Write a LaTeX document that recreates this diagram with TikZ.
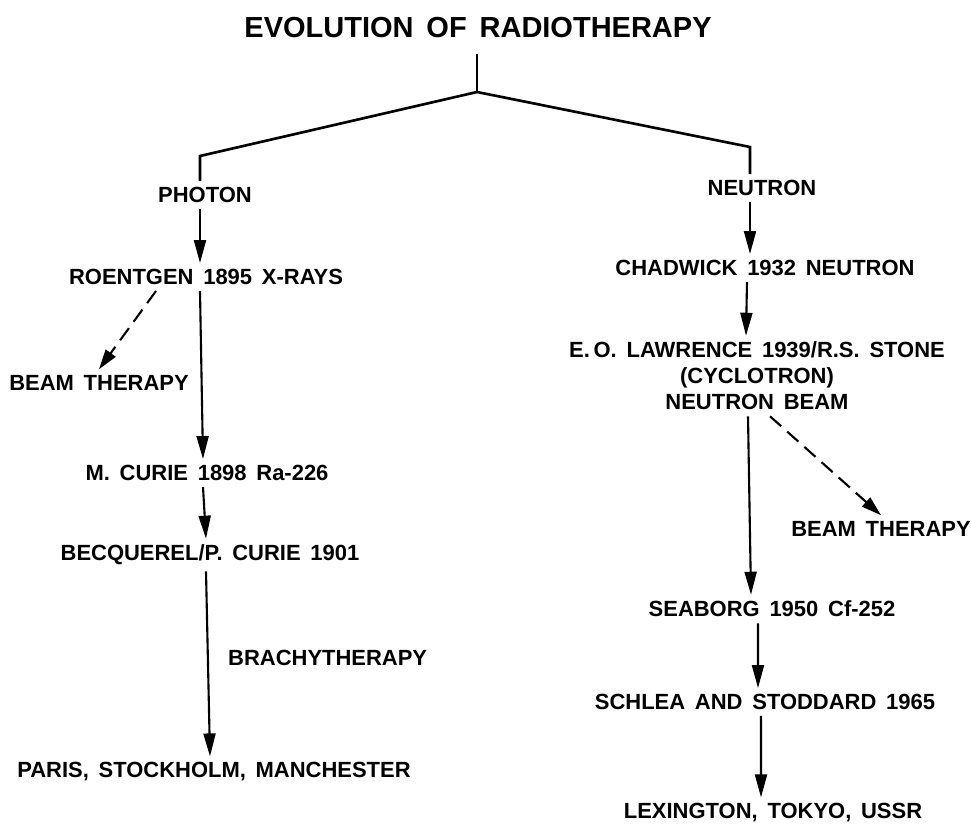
\documentclass[tikz,border=0pt]{standalone}
\usepackage{fontspec}
\setmainfont{Liberation Sans}[WordSpace=1.6]
\usetikzlibrary{arrows.meta}
\tikzset{
  lbl/.style={font=\fontsize{12.5pt}{14.8pt}\selectfont\bfseries, align=center},
  flow/.style={-{Triangle[length=4.6mm,width=2.4mm]}, line width=1.2pt},
  side/.style={-{Triangle[length=4mm,width=2.4mm]}, line width=1.2pt,
    dash pattern=on 3mm off 1.6mm},
}
\begin{document}
\begin{tikzpicture}[x=0.2mm,y=-0.2mm]
  \useasboundingbox (0,0) rectangle (971,825);
  \node[font=\fontsize{16.5pt}{18pt}\selectfont\bfseries] (title) at (478,28) {EVOLUTION OF RADIOTHERAPY};
  \coordinate (fork) at (477,92);
  \coordinate (lc) at (200,156);
  \coordinate (rc) at (750,147);
  \draw[line width=1.5pt] ([yshift=-2mm]title.south -| fork) -- (fork);
  % photon side
  \node[lbl] (photon) at (205,195) {PHOTON};
  \node[lbl] (roentgen) at (206,277) {ROENTGEN 1895 X-RAYS};
  \node[lbl] (beamL) at (99,383) {BEAM THERAPY};
  \node[lbl] (mcurie) at (207,473) {M. CURIE 1898 Ra-226};
  \node[lbl] (becq) at (210,555) {BECQUEREL/P. CURIE 1901};
  \node[lbl,anchor=west] (brachy) at (222,658) {BRACHYTHERAPY};
  \node[lbl] (paris) at (214,772) {PARIS, STOCKHOLM, MANCHESTER};
  \draw[line width=1.5pt] (fork) -- (lc) -- (lc |- photon.north);
  \draw[flow] (photon.south -| lc) -- (roentgen.north -| lc);
  \draw[flow] (roentgen.south -| lc) -- ([xshift=-0.8mm]mcurie.north);
  \draw[flow] ([xshift=-0.8mm]mcurie.south) -- ([xshift=-0.8mm]becq.north);
  \draw[flow] ([xshift=-0.8mm]becq.south) -- ([xshift=-0.8mm]paris.north);
  \draw[side] ([xshift=-10mm]roentgen.south) -- (beamL.north);
  % neutron side
  \node[lbl] (neutron) at (762,188) {NEUTRON};
  \node[lbl] (chadwick) at (765,268) {CHADWICK 1932 NEUTRON};
  \node[lbl] (lawrence) at (757,376) {E.\,O. LAWRENCE 1939/R.S. STONE\\(CYCLOTRON)\\NEUTRON BEAM};
  \node[lbl] (beamR) at (881,529) {BEAM THERAPY};
  \node[lbl] (seaborg) at (772,609) {SEABORG 1950 Cf-252};
  \node[lbl] (schlea) at (765,702) {SCHLEA AND STODDARD 1965};
  \node[lbl] (lexington) at (773,813) {LEXINGTON, TOKYO, USSR};
  \draw[line width=1.5pt] (fork) -- (rc) -- (rc |- neutron.north);
  \draw[flow] (neutron.south -| rc) -- (chadwick.north -| rc);
  \draw[flow] ([xshift=-3.6mm]chadwick.south) -- ([xshift=-2.2mm]lawrence.north);
  \draw[flow] ([xshift=-1.8mm]lawrence.south) -- ([xshift=-4.2mm]seaborg.north);
  \draw[side] ([xshift=2.6mm]lawrence.south) -- (beamR.north);
  \draw[flow] ([xshift=-2.8mm]seaborg.south) -- ([xshift=-1.4mm]schlea.north);
  \draw[flow] ([xshift=-0.8mm]schlea.south) -- ([xshift=-2.4mm]lexington.north);
\end{tikzpicture}
\end{document}
